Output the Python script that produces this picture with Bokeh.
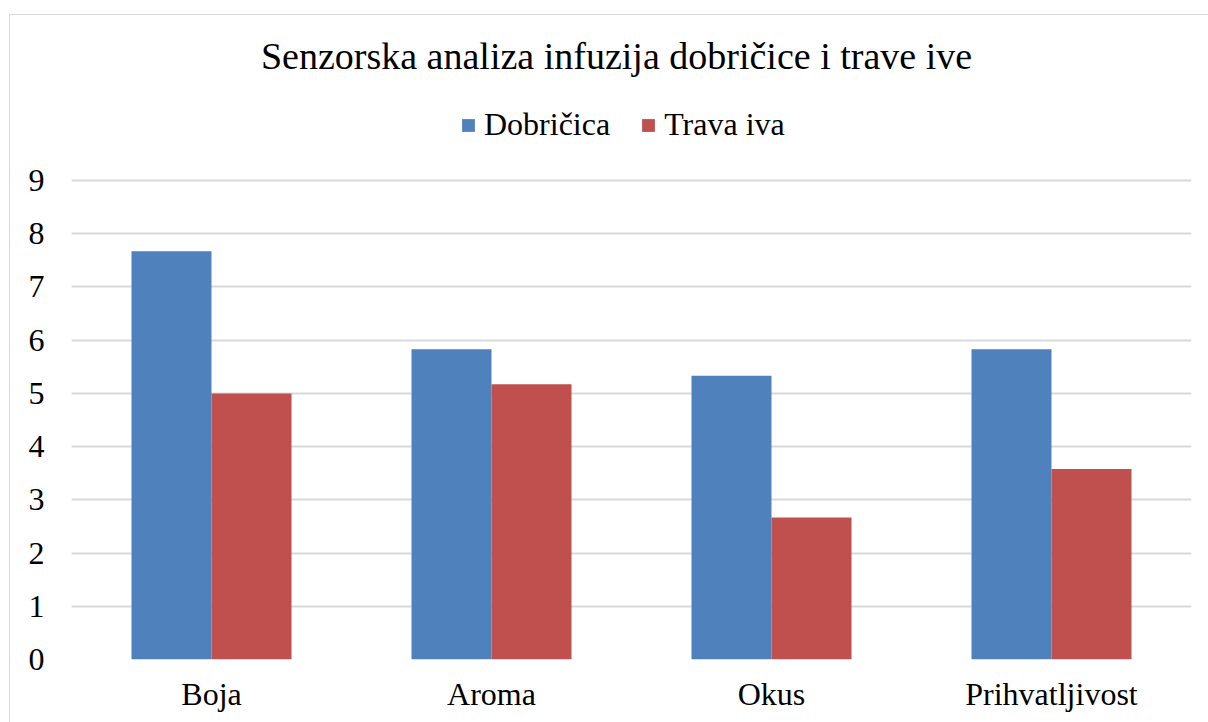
from bokeh.plotting import figure
from bokeh.models import FactorRange, ColumnDataSource, Legend, LegendItem, Label, FixedTicker, Range1d
from bokeh.transform import dodge
from bokeh.embed import file_html
from bokeh.resources import INLINE

categories = ["Boja", "Aroma", "Okus", "Prihvatljivost"]
dobricica = [7.67, 5.83, 5.33, 5.83]
trava_iva = [5.0, 5.17, 2.67, 3.58]
series_names = ["Dobričica", "Trava iva"]
y_ticks = [0, 1, 2, 3, 4, 5, 6, 7, 8, 9]
title_text = "Senzorska analiza infuzija dobričice i trave ive"

FONT = "Liberation Serif"
src = ColumnDataSource(dict(cat=categories, d=dobricica, t=trava_iva))

p = figure(x_range=FactorRange(*categories, range_padding=0), y_range=Range1d(0, 12.10),
           width=1199, height=708, output_backend="svg", toolbar_location=None,
           title=None, min_border_left=61, min_border_right=18, min_border_bottom=64,
           min_border_top=0)
p.styles = {"border-left": "1px solid #d9d9d9", "border-top": "1px solid #d9d9d9",
            "box-sizing": "border-box", "margin-top": "14px", "margin-left": "9px"}
p.outline_line_color = None

r1 = p.vbar(x=dodge("cat", -0.1429, range=p.x_range), top="d", width=0.2857, source=src,
            fill_color="#4F81BD", line_color=None)
r2 = p.vbar(x=dodge("cat", 0.1429, range=p.x_range), top="t", width=0.2857, source=src,
            fill_color="#C0504D", line_color=None)

p.xgrid.grid_line_color = None
p.ygrid.grid_line_color = "#d9d9d9"
p.ygrid.grid_line_width = 2
p.yaxis.ticker = FixedTicker(ticks=y_ticks)
for ax in (p.xaxis[0], p.yaxis[0]):
    ax.axis_line_color = None
    ax.major_tick_line_color = None
    ax.minor_tick_line_color = None
    ax.major_label_text_font = FONT
    ax.major_label_text_font_size = "32px"
    ax.major_label_text_color = "#000000"
p.yaxis.major_label_standoff = 21
p.xaxis.major_label_standoff = 10

legend = Legend(items=[LegendItem(label=series_names[0], renderers=[r1]),
                       LegendItem(label=series_names[1], renderers=[r2])],
                orientation="horizontal", location=(389, 516),
                label_text_font=FONT, label_text_font_size="32px", label_text_color="#000000",
                glyph_width=16, glyph_height=16, label_height=32, spacing=30, label_standoff=8,
                border_line_color=None, background_fill_alpha=0, padding=0, margin=0)
p.add_layout(legend, "center")
p.add_layout(Label(x=545, y=604, x_units="screen", y_units="screen", text=title_text,
                   text_align="center", text_baseline="middle", text_font=FONT,
                   text_font_size="38px", text_color="#000000"))

open("out.html", "w").write(file_html(p, INLINE))
